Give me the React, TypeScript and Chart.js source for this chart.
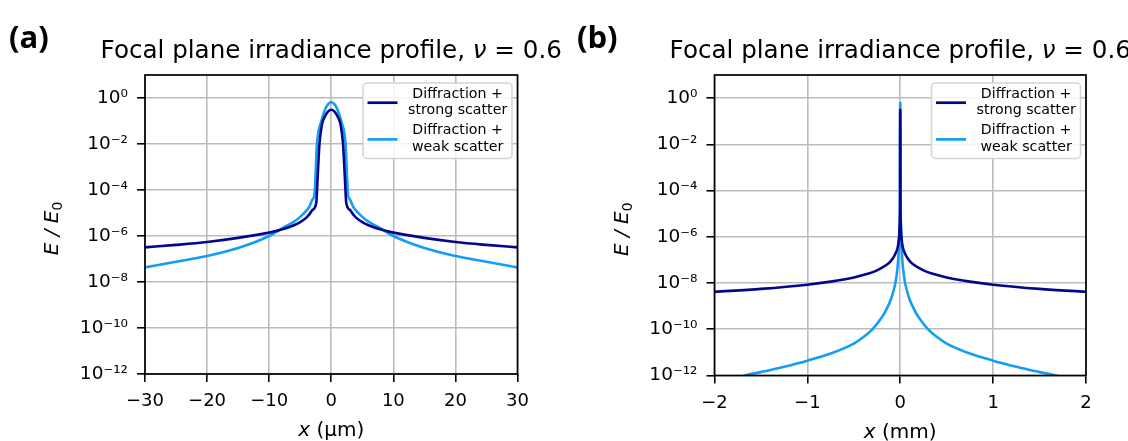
import React, { useEffect, useRef } from "react";
import { Chart, registerables } from "chart.js";
Chart.register(...registerables);

// ---------- data ----------
const Y_TICK_VALUES = [1e-12, 1e-10, 1e-8, 1e-6, 1e-4, 1e-2, 1];
const Y_TICK_LABELS = ["10⁻¹²", "10⁻¹⁰", "10⁻⁸", "10⁻⁶", "10⁻⁴", "10⁻²", "10⁰"];

const A_X_TICKS = [-30, -20, -10, 0, 10, 20, 30];
const A_X_TICK_LABELS = ["−30", "−20", "−10", "0", "10", "20", "30"];
const B_X_TICKS = [-2, -1, 0, 1, 2];
const B_X_TICK_LABELS = ["−2", "−1", "0", "1", "2"];

// Panel (a): x in µm
const A_STRONG_X = [-30, -25, -20, -15, -10, -8, -6, -5, -4, -3.5, -3, -2.42, -2.2, -1.9, -1.5, -1.0, -0.5, 0,
  0.5, 1.0, 1.5, 1.9, 2.2, 2.42, 3, 3.5, 4, 5, 6, 8, 10, 15, 20, 25, 30];
const A_STRONG_Y = [3.2e-7, 4.1e-7, 5.5e-7, 8.3e-7, 1.4e-6, 1.9e-6, 2.95e-6, 4.0e-6, 6.3e-6, 8.9e-6, 1.38e-5, 2.7e-5, 3.2e-4, 1.0e-2, 7.0e-2, 0.16, 0.26, 0.31,
  0.26, 0.16, 7.0e-2, 1.0e-2, 3.2e-4, 2.7e-5, 1.38e-5, 8.9e-6, 6.3e-6, 4.0e-6, 2.95e-6, 1.9e-6, 1.4e-6, 8.3e-7, 5.5e-7, 4.1e-7, 3.2e-7];

const A_WEAK_X = [-30, -25, -20, -15, -10, -8, -6, -5, -4, -3.5, -3, -2.7, -2.3, -1.6, -1.0, -0.5, 0,
  0.5, 1.0, 1.6, 2.3, 2.7, 3, 3.5, 4, 5, 6, 8, 10, 15, 20, 25, 30];
const A_WEAK_Y = [4.3e-8, 7.6e-8, 1.35e-7, 3.0e-7, 1.0e-6, 2.1e-6, 4.2e-6, 6.8e-6, 1.26e-5, 1.95e-5, 4.0e-5, 6.3e-5, 1.0e-2, 0.1, 0.32, 0.54, 0.65,
  0.54, 0.32, 0.1, 1.0e-2, 6.3e-5, 4.0e-5, 1.95e-5, 1.26e-5, 6.8e-6, 4.2e-6, 2.1e-6, 1.0e-6, 3.0e-7, 1.35e-7, 7.6e-8, 4.3e-8];

// Panel (b): x in mm
const B_STRONG_X = [-2, -1.5, -1, -0.75, -0.5, -0.35, -0.25, -0.15, -0.1, -0.06, -0.03, -0.02, -0.01, -0.005, -0.0024, -0.0019, -0.001, 0,
  0.001, 0.0019, 0.0024, 0.005, 0.01, 0.02, 0.03, 0.06, 0.1, 0.15, 0.25, 0.35, 0.5, 0.75, 1, 1.5, 2];
const B_STRONG_Y = [4.2e-9, 5.6e-9, 8.5e-9, 1.15e-8, 1.74e-8, 2.5e-8, 3.55e-8, 6.0e-8, 9.1e-8, 1.6e-7, 3.2e-7, 5.2e-7, 1.4e-6, 4.0e-6, 2.7e-5, 1.0e-2, 0.16, 0.31,
  0.16, 1.0e-2, 2.7e-5, 4.0e-6, 1.4e-6, 5.2e-7, 3.2e-7, 1.6e-7, 9.1e-8, 6.0e-8, 3.55e-8, 2.5e-8, 1.74e-8, 1.15e-8, 8.5e-9, 5.6e-9, 4.2e-9];

const B_WEAK_X = [-2, -1.7, -1.5, -1.25, -1, -0.75, -0.5, -0.4, -0.3, -0.2, -0.15, -0.1, -0.07, -0.05, -0.03, -0.02, -0.01, -0.005, -0.0027, -0.0023, -0.001, 0,
  0.001, 0.0023, 0.0027, 0.005, 0.01, 0.02, 0.03, 0.05, 0.07, 0.1, 0.15, 0.2, 0.3, 0.4, 0.5, 0.75, 1, 1.25, 1.5, 1.7, 2];
const B_WEAK_Y = [2.5e-13, 9.3e-13, 1.4e-12, 2.4e-12, 4.4e-12, 8.9e-12, 2.4e-11, 4.5e-11, 1.0e-10, 3.2e-10, 7.1e-10, 2.0e-9, 5.0e-9, 1.12e-8, 4.3e-8, 1.35e-7, 1.0e-6, 6.8e-6, 6.3e-5, 1.0e-2, 0.32, 0.65,
  0.32, 1.0e-2, 6.3e-5, 6.8e-6, 1.0e-6, 1.35e-7, 4.3e-8, 1.12e-8, 5.0e-9, 2.0e-9, 7.1e-10, 3.2e-10, 1.0e-10, 4.5e-11, 2.4e-11, 8.9e-12, 4.4e-12, 2.4e-12, 1.4e-12, 9.3e-13, 2.5e-13];

const SERIES_NAMES = ["Diffraction + strong scatter", "Diffraction + weak scatter"];
const LEGEND_LINES = [["Diffraction +", "strong scatter"], ["Diffraction +", "weak scatter"]];
const COLORS = ["#06068c", "#129ef6"];

const FONT = "'DejaVu Sans', sans-serif";

type PanelCfg = {
  label: string;
  labelX: number;
  unit: string;
  xMin: number;
  xMax: number;
  xTicks: number[];
  xTickLabels: string[];
  strongX: number[];
  strongY: number[];
  weakX: number[];
  weakY: number[];
  yAxisWidth: number;
  padRight: number;
  xAxisHeight: number;
};

const PANELS: PanelCfg[] = [
  {
    label: "(a)", labelX: 9, unit: " (µm)", xMin: -30, xMax: 30, xTicks: A_X_TICKS, xTickLabels: A_X_TICK_LABELS,
    strongX: A_STRONG_X, strongY: A_STRONG_Y, weakX: A_WEAK_X, weakY: A_WEAK_Y,
    yAxisWidth: 145, padRight: 46.5, xAxisHeight: 67,
  },
  {
    label: "(b)", labelX: 13, unit: " (mm)", xMin: -2, xMax: 2, xTicks: B_X_TICKS, xTickLabels: B_X_TICK_LABELS,
    strongX: B_STRONG_X, strongY: B_STRONG_Y, weakX: B_WEAK_X, weakY: B_WEAK_Y,
    yAxisWidth: 150.5, padRight: 42, xAxisHeight: 65.5,
  },
];

function drawParts(ctx: CanvasRenderingContext2D, parts: { t: string; f: string; dy?: number }[], cx: number, y: number) {
  let total = 0;
  const widths = parts.map((p) => { ctx.font = p.f; const w = ctx.measureText(p.t).width; total += w; return w; });
  let x = cx - total / 2;
  parts.forEach((p, i) => {
    ctx.font = p.f;
    ctx.fillText(p.t, x, y + (p.dy || 0));
    x += widths[i];
  });
}

const decoPlugin = {
  id: "deco",
  afterDraw(chart: any, _args: any, opts: any) {
    const { ctx, chartArea: ca } = chart;
    const cx = (ca.left + ca.right) / 2;
    ctx.save();
    // frame
    ctx.strokeStyle = "#000";
    ctx.lineWidth = 1.7;
    ctx.strokeRect(ca.left, ca.top, ca.right - ca.left, ca.bottom - ca.top);

    ctx.fillStyle = "#000";
    ctx.textAlign = "left";
    ctx.textBaseline = "alphabetic";
    // title
    drawParts(ctx, [
      { t: "Focal plane irradiance profile, ", f: `24.6px ${FONT}` },
      { t: "ν", f: `italic 24.6px ${FONT}` },
      { t: " = 0.6", f: `24.6px ${FONT}` },
    ], cx, 58);
    // panel label
    ctx.font = `bold 31px 'Open Sans', sans-serif`;
    ctx.fillText(opts.label, opts.labelX, 48);
    // x label
    drawParts(ctx, [
      { t: "x", f: `italic 20px ${FONT}` },
      { t: opts.unit, f: `20px ${FONT}` },
    ], cx, ca.bottom + 62);
    // y label
    ctx.save();
    ctx.translate(ca.left - 87, (ca.top + ca.bottom) / 2 + 4);
    ctx.rotate(-Math.PI / 2);
    drawParts(ctx, [
      { t: "E / E", f: `italic 20px ${FONT}` },
      { t: "0", f: `14px ${FONT}`, dy: 4 },
    ], 0, 0);
    ctx.restore();

    // legend
    const bw = 149, bh = 75.5;
    const bx = ca.right - 5.5 - bw, by = ca.top + 8;
    ctx.beginPath();
    const r = 4;
    ctx.moveTo(bx + r, by);
    ctx.arcTo(bx + bw, by, bx + bw, by + bh, r);
    ctx.arcTo(bx + bw, by + bh, bx, by + bh, r);
    ctx.arcTo(bx, by + bh, bx, by, r);
    ctx.arcTo(bx, by, bx + bw, by, r);
    ctx.closePath();
    ctx.fillStyle = "rgba(255,255,255,0.85)";
    ctx.fill();
    ctx.strokeStyle = "#d4d4d4";
    ctx.lineWidth = 1.5;
    ctx.stroke();

    const lineYs = [by + 19.7, by + 56.4];
    ctx.font = `14.2px ${FONT}`;
    const maxW = Math.max(...LEGEND_LINES.flat().map((t) => ctx.measureText(t).width));
    const tcx = bx + 45 + maxW / 2;
    LEGEND_LINES.forEach((lines, i) => {
      ctx.strokeStyle = COLORS[i];
      ctx.lineWidth = 2.7;
      ctx.beginPath();
      ctx.moveTo(bx + 4.5, lineYs[i]);
      ctx.lineTo(bx + 34.5, lineYs[i]);
      ctx.stroke();
      ctx.fillStyle = "#000";
      ctx.textAlign = "center";
      ctx.textBaseline = "middle";
      ctx.fillText(lines[0], tcx, lineYs[i] - 8.6);
      ctx.fillText(lines[1], tcx, lineYs[i] + 8);
    });
    ctx.restore();
  },
};

function Panel({ cfg, left }: { cfg: PanelCfg; left: number }) {
  const ref = useRef<HTMLCanvasElement | null>(null);
  useEffect(() => {
    if (!ref.current) return;
    const chart = new Chart(ref.current, {
      type: "line",
      data: {
        datasets: [
          {
            label: SERIES_NAMES[0],
            data: cfg.strongX.map((x, i) => ({ x, y: cfg.strongY[i] })),
            borderColor: COLORS[0],
            borderWidth: 2.6,
            pointRadius: 0,
            cubicInterpolationMode: "monotone",
          },
          {
            label: SERIES_NAMES[1],
            data: cfg.weakX.map((x, i) => ({ x, y: cfg.weakY[i] })),
            borderColor: COLORS[1],
            borderWidth: 2.6,
            pointRadius: 0,
            cubicInterpolationMode: "monotone",
          },
        ],
      },
      options: {
        animation: false,
        responsive: false,
        devicePixelRatio: 1,
        layout: { padding: { left: 0, right: cfg.padRight, top: 75, bottom: 0 } },
        plugins: {
          legend: { display: false },
          title: { display: false },
          tooltip: { enabled: false },
          deco: { label: cfg.label, labelX: cfg.labelX, unit: cfg.unit },
        } as any,
        scales: {
          x: {
            type: "linear",
            min: cfg.xMin,
            max: cfg.xMax,
            afterBuildTicks: (s: any) => { s.ticks = cfg.xTicks.map((v) => ({ value: v })); },
            afterFit: (s: any) => { s.height = cfg.xAxisHeight; },
            ticks: {
              autoSkip: false,
              maxRotation: 0,
              padding: 9,
              color: "#000",
              font: { family: FONT, size: 18 },
              callback: (_v: any, i: number) => cfg.xTickLabels[i],
            },
            grid: { color: "#bcbcbc", lineWidth: 1.6, tickLength: 8, tickColor: "#000", tickWidth: 1.6 },
            border: { display: false },
          },
          y: {
            type: "logarithmic",
            min: 1e-12,
            max: 10,
            afterBuildTicks: (s: any) => { s.ticks = Y_TICK_VALUES.map((v) => ({ value: v, major: true })); },
            afterFit: (s: any) => { s.width = cfg.yAxisWidth; },
            ticks: {
              autoSkip: false,
              padding: 9,
              color: "#000",
              font: { family: FONT, size: 18.5 },
              callback: (_v: any, i: number) => Y_TICK_LABELS[i],
            },
            grid: { color: "#bcbcbc", lineWidth: 1.6, tickLength: 8, tickColor: "#000", tickWidth: 1.6 },
            border: { display: false },
          },
        },
      },
      plugins: [decoPlugin],
    } as any);
    return () => chart.destroy();
  }, [cfg]);
  return (
    <canvas
      ref={ref}
      width={564}
      height={441}
      style={{ position: "absolute", left, top: 0, width: 564, height: 441, display: "block" }}
    />
  );
}

export default function App() {
  return (
    <div style={{ position: "absolute", left: 0, top: 0, width: 1128, height: 441, background: "#fff", overflow: "hidden" }}>
      <Panel cfg={PANELS[0]} left={0} />
      <Panel cfg={PANELS[1]} left={564} />
    </div>
  );
}
